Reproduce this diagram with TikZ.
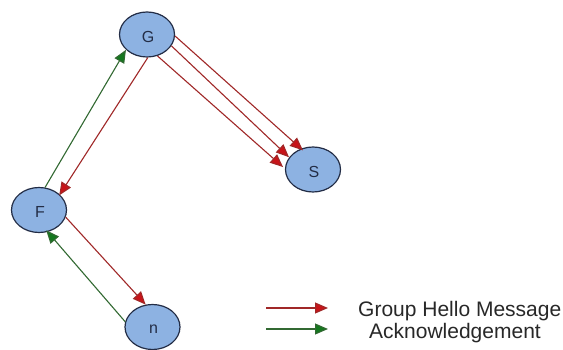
\documentclass[tikz,border=0pt]{standalone}
\usepackage{fontspec}
\setmainfont{Liberation Sans}
\usetikzlibrary{arrows.meta,shapes.geometric}

\definecolor{nodefill}{RGB}{141,178,226}
\definecolor{nodeline}{RGB}{35,45,70}
\definecolor{hello}{RGB}{200,20,25}
\definecolor{helloline}{RGB}{160,40,40}
\definecolor{ack}{RGB}{20,120,30}
\definecolor{ackline}{RGB}{50,105,50}
\definecolor{labeltext}{RGB}{40,40,40}

\tikzset{
  peer/.style={ellipse, draw=nodeline, line width=1.2pt, fill=nodefill,
    minimum width=55pt, minimum height=45pt, inner sep=0pt},
  peerlabel/.style={yshift=-2pt, xshift=1pt,
    font=\fontsize{16}{16}\selectfont, text=nodeline},
  hellomsg/.style={draw=helloline, line width=1.1pt,
    -{Triangle[length=13pt,width=11pt,fill=hello]}},
  ackmsg/.style={draw=ackline, line width=1.1pt,
    -{Triangle[length=13pt,width=11pt,fill=ack]}},
  legendtext/.style={anchor=west, inner sep=0pt, text=labeltext,
    font=\fontsize{21}{21}\selectfont}
}

\begin{document}
\begin{tikzpicture}[x=1pt,y=-1pt]
  \useasboundingbox[fill=white] (0,0) rectangle (563,350);

  % peers
  \node[peer] (G) at (147,34.5) {};
  \node[peer] (S) at (313,169.5) {};
  \node[peer] (F) at (39,210) {};
  \node[peer] (D) at (152.5,327) {};
  \node[peerlabel] (Glabel) at (G.center) {G};
  \node[peerlabel] (Slabel) at (S.center) {S};
  \node[peerlabel] (Flabel) at (F.center) {F};
  \node[peerlabel] (Dlabel) at (D.center) {n};

  % group hello messages
  \draw[hellomsg] (G.-3) -- ([shift={(-2pt,-3pt)}]S.110);
  \draw[hellomsg] (G.-25) -- ([shift={(-1pt,-1pt)}]S.150);
  \draw[hellomsg] (G.-64) -- ([shift={(-2pt,0pt)}]S.175);
  \draw[hellomsg] (G.-88) -- ([shift={(2pt,-3pt)}]F.44);
  \draw[hellomsg] (F.-15) -- (D.107);

  % acknowledgements
  \draw[ackmsg] (F.75) -- (G.-144);
  \draw[ackmsg] (D.169) -- ([shift={(0pt,2pt)}]F.-72);

  % legend
  \coordinate (helloA) at (266,308);
  \coordinate (helloB) at (328,308);
  \coordinate (ackA) at (266,329);
  \coordinate (ackB) at (328,329);
  \draw[hellomsg] (helloA) -- (helloB);
  \draw[ackmsg] (ackA) -- (ackB);
  \node[legendtext] (helloText) at (358,311) {Group Hello Message};
  \node[legendtext] (ackText) at (369,333) {Acknowledgement};
\end{tikzpicture}
\end{document}
